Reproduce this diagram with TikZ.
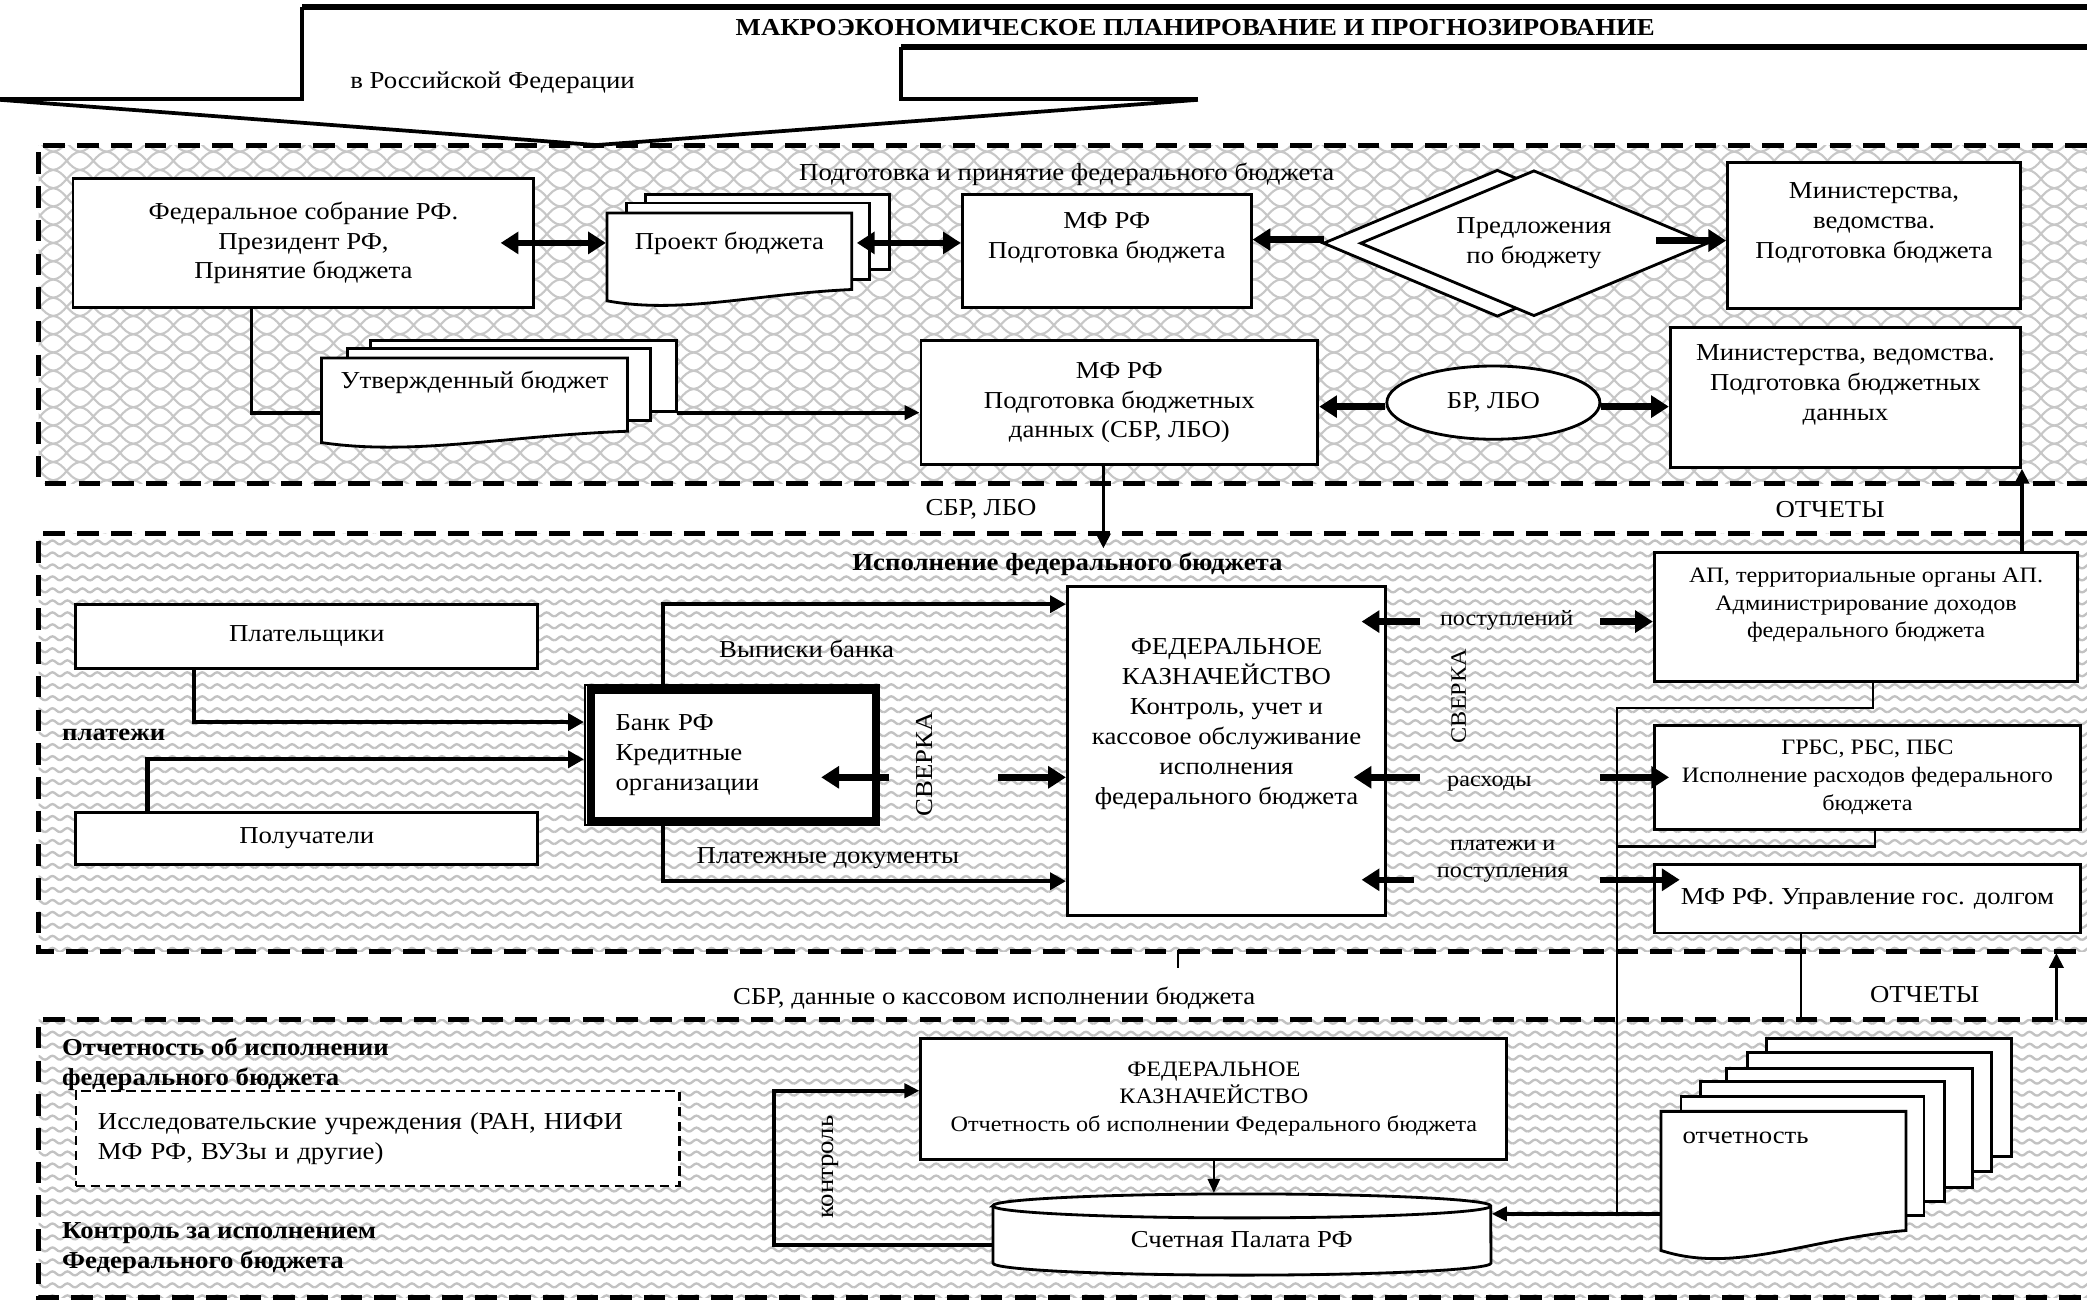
\documentclass[tikz,border=0pt]{standalone}
\usepackage{fontspec}
\setmainfont{Liberation Serif}[FakeStretch=1.1]
\usetikzlibrary{arrows.meta,shapes.geometric,patterns}
\newcommand\mysz{\fontsize{5.2}{6.4}\selectfont}
\newcommand\mysm{\fontsize{4.7}{5.9}\selectfont}
\pgfdeclarepatternformonly{mymesh}{\pgfqpoint{-0.5pt}{-0.5pt}}{\pgfqpoint{6.2pt}{4.4pt}}{\pgfqpoint{5.7pt}{3.9pt}}{%
  \pgfsetlinewidth{0.45pt}%
  \pgfpathmoveto{\pgfqpoint{0pt}{0pt}}%
  \pgfpathcurveto{\pgfqpoint{2.4pt}{0.2pt}}{\pgfqpoint{3.3pt}{3.7pt}}{\pgfqpoint{5.7pt}{3.9pt}}%
  \pgfpathmoveto{\pgfqpoint{0pt}{3.9pt}}%
  \pgfpathcurveto{\pgfqpoint{2.4pt}{3.7pt}}{\pgfqpoint{3.3pt}{0.2pt}}{\pgfqpoint{5.7pt}{0pt}}%
  \pgfusepath{stroke}}
\pgfdeclarepatternformonly{myzig}{\pgfqpoint{-0.3pt}{-0.3pt}}{\pgfqpoint{3.5pt}{2.86pt}}{\pgfqpoint{3.2pt}{2.56pt}}{%
  \pgfsetlinewidth{0.5pt}%
  \pgfpathmoveto{\pgfqpoint{0pt}{0.5pt}}%
  \pgfpathcurveto{\pgfqpoint{0.6pt}{0.5pt}}{\pgfqpoint{1pt}{1.35pt}}{\pgfqpoint{1.6pt}{1.35pt}}%
  \pgfpathcurveto{\pgfqpoint{2.2pt}{1.35pt}}{\pgfqpoint{2.6pt}{0.5pt}}{\pgfqpoint{3.2pt}{0.5pt}}%
  \pgfusepath{stroke}}
\newcommand\docsheet[5]{%
  \draw[sheet] (#1,#4) -- (#1,#2) -- (#3,#2) -- (#3,#4-#5)
    .. controls ({#1+0.6*(#3-#1)},{#4-0.6*#5}) and ({#1+0.3*(#3-#1)},{#4+1.2*#5}) .. (#1,#4) -- cycle;}
\begin{document}
\begin{tikzpicture}[x=0.01cm,y=-0.01cm, font=\mysz,
  box/.style={draw, fill=white, line width=0.6pt, inner sep=1pt, align=center},
  lbl/.style={inner sep=0pt, align=center},
  region/.style={line width=1.1pt, dash pattern=on 4.6pt off 2.6pt},
  bigarrow/.style={line width=1.4pt, -{Triangle[length=3.8pt,width=4.6pt]}},
  bigdbl/.style={line width=1.4pt, {Triangle[length=3.8pt,width=4.6pt]}-{Triangle[length=3.8pt,width=4.6pt]}},
  conn/.style={line width=0.9pt, -{Triangle[length=3.4pt,width=3.6pt]}},
  medarrow/.style={line width=0.8pt, -{Triangle[length=3.2pt,width=3pt]}},
  thinarrow/.style={line width=0.5pt, -{Triangle[length=3pt,width=2.6pt]}},
  medline/.style={line width=0.8pt},
  thinline/.style={line width=0.45pt},
  sheet/.style={draw, fill=white, line width=0.6pt},
  banner/.style={line width=0.8pt},
]
\useasboundingbox (0,0) rectangle (1568,978);

% ---------- backgrounds of the three regions
\path[pattern=mymesh, pattern color=black!22] (29,109) rectangle (1568,363);
\path[pattern=myzig, pattern color=black!24] (29,401) rectangle (1568,715);
\path[pattern=myzig, pattern color=black!24] (29,766) rectangle (1568,975);
\draw[region] (1568,109) -- (29,109) -- (29,363) -- (1568,363);
\draw[region] (1568,401) -- (29,401) -- (29,715) -- (1568,715);
\draw[region] (1568,766) -- (29,766) -- (29,975) -- (1568,975);

% ---------- banner
\draw[line width=1.3pt] (227,5.5) -- (1568,5.5);
\draw[banner] (0,74.5) -- (227,74.5) -- (227,5.5);
\draw[line width=1.3pt] (677,35) -- (1568,35);
\draw[banner] (677,35) -- (677,74.5) -- (900,74.5);
\draw[banner] (0,75) -- (448,109) -- (900,75);
\node[lbl, font=\mysz\bfseries] (ttl) at (898,21) {МАКРОЭКОНОМИЧЕСКОЕ ПЛАНИРОВАНИЕ И ПРОГНОЗИРОВАНИЕ};
\node[lbl] (ttl2) at (370,62.5) {в Российской Федерации};

% ---------- region 1
\node[lbl] (r1t) at (801.5,131) {Подготовка и принятие федерального бюджета};
\node[box, minimum width=3.46cm, minimum height=0.97cm] (fed) at (228,182.5) {Федеральное собрание РФ.\\Президент РФ,\\Принятие бюджета};

\draw[sheet] (485,146) rectangle (668,202.5);
\draw[sheet] (471,152.5) rectangle (653,210);
\docsheet{456}{160}{640}{226}{8.5}
\node[lbl, minimum width=1.84cm] (pt) at (548,182.5) {Проект бюджета};

\node[box, minimum width=2.17cm, minimum height=0.85cm] (mf1) at (831.5,188.5) {МФ РФ\\Подготовка бюджета\\\mbox{}};

\draw[sheet] (994.5,182.75) -- (1125,128) -- (1255.5,182.75) -- (1125,237.5) -- cycle;
\node[draw, fill=white, diamond, shape aspect=2.4, minimum width=2.61cm, minimum height=1.095cm, inner sep=0pt, line width=0.6pt, align=center] (prop) at (1152.5,182.75) {Предложения\\по бюджету};

\node[box, minimum width=2.20cm, minimum height=1.10cm] (min1) at (1408,177) {Министерства,\\ведомства.\\Подготовка бюджета\\\mbox{}};

\draw[sheet] (278.6,256) rectangle (508,309);
\draw[sheet] (261,262) rectangle (489,316);
\docsheet{241.5}{269}{471.5}{332.5}{8.5}
\node[lbl, minimum width=2.3cm] (ut) at (356.5,287.5) {Утвержденный бюджет};

\node[box, minimum width=2.98cm, minimum height=0.93cm] (mf2) at (841,302.5) {МФ РФ\\Подготовка бюджетных\\данных (СБР, ЛБО)};
\node[draw, fill=white, ellipse, line width=0.6pt, minimum width=1.6cm, minimum height=0.55cm, inner sep=0pt] (br) at (1122,302.5) {БР, ЛБО};
\node[box, minimum width=2.63cm, minimum height=1.05cm] (min2) at (1386.5,298.5) {Министерства, ведомства.\\Подготовка бюджетных\\данных\\\mbox{}};

% region 1 connectors
\coordinate (fedar) at ([xshift=-0.26cm]fed.east);
\draw[bigdbl] (fedar) -- (pt.west);
\coordinate (ptr) at ([xshift=0.03cm]pt.east);
\draw[bigdbl] (ptr) -- (ptr -| mf1.west);
\coordinate (dback) at (994.5,180);
\draw[bigarrow] (dback) -- (dback -| mf1.east);
\coordinate (dfr) at ([xshift=-0.4cm,yshift=0.02cm]prop.east);
\draw[bigarrow] (dfr) -- (dfr -| min1.west);
\draw[medline] ([xshift=-0.39cm]fed.south) |- ([yshift=-0.225cm]ut.west);
\coordinate (utout) at ([xshift=0.365cm,yshift=-0.225cm]ut.east);
\draw[medarrow] (utout) -- (utout -| mf2.west);
\coordinate (brl) at ([yshift=-0.03cm]br.west);
\draw[bigarrow] (brl) -- (brl -| mf2.east);
\coordinate (brr) at ([yshift=-0.03cm]br.east);
\draw[bigarrow] (brr) -- (brr -| min2.west);

% ---------- between region 1 and 2
\node[lbl] (sbr) at (737,383) {СБР, ЛБО};
\node[lbl] (ot1) at (1375,383) {ОТЧЕТЫ};
\coordinate (mfd) at ([xshift=-0.12cm]mf2.south);
\draw[medarrow] (mfd) -- ++(0,62);

% ---------- region 2
\node[lbl, font=\mysz\bfseries] (r2t) at (802,424) {Исполнение федерального бюджета};
\node[box, minimum width=3.47cm, minimum height=0.485cm] (pay) at (230.5,478.25) {Плательщики};
\node[box, minimum width=3.47cm, minimum height=0.39cm] (rec) at (230.5,630) {Получатели};
\node[lbl, anchor=west, font=\mysz\bfseries] (plt) at (46,552.5) {платежи};

\node[draw, fill=white, line width=0.4pt, minimum height=1.05cm, text width=1.75cm, inner xsep=0.23cm, align=left] (bank) at (550,567.5) {Банк РФ\\Кредитные\\организации};
\draw[line width=1.7pt] ([shift={(0.055cm,-0.04cm)}]bank.north west) rectangle ([shift={(-0.035cm,0.04cm)}]bank.south east);

\node[box, minimum width=2.39cm, minimum height=2.47cm] (kazn) at (921.5,564.5) {ФЕДЕРАЛЬНОЕ\\КАЗНАЧЕЙСТВО\\Контроль, учет и\\кассовое обслуживание\\исполнения\\федерального бюджета\\\mbox{}\\\mbox{}};

\node[box, font=\mysm, minimum width=3.18cm, minimum height=0.97cm] (ap) at (1402,463.5) {АП, территориальные органы АП.\\Администрирование доходов\\федерального бюджета\\\mbox{}};
\node[box, font=\mysm, minimum width=3.20cm, minimum height=0.78cm] (grbs) at (1403,584) {ГРБС, РБС, ПБС\\Исполнение расходов федерального\\бюджета};
\node[box, minimum width=3.20cm, minimum height=0.515cm] (mfu) at (1403,675.25) {МФ РФ. Управление гос. долгом};

\node[lbl] (vyp) at (606,487.5) {Выписки банка};
\node[lbl] (pld) at (622,645) {Платежные документы};
\node[lbl, rotate=90] (sv1t) at (695,574) {СВЕРКА};
\node[lbl, font=\mysm, rotate=90] (sv2t) at (1096,523) {СВЕРКА};
\node[lbl, font=\mysm] (pos) at (1132,466) {поступлений};
\node[lbl, font=\mysm] (ras) at (1119,589) {расходы};
\node[lbl, font=\mysm] (ppo) at (1129,647) {платежи и\\поступления};

\draw[conn] ([xshift=0.9cm]pay.south west) |- ([yshift=0.25cm]bank.west);
\draw[conn] ([xshift=0.55cm]rec.north west) |- ([yshift=-0.03cm]bank.west);
\draw[conn] ([xshift=0.595cm]bank.north west) |- ([yshift=1.105cm]kazn.west);
\draw[conn] ([xshift=0.595cm]bank.south west) |- ([yshift=-0.975cm]kazn.west);

\coordinate (sa) at (668,584);
\draw[bigarrow] (sa) -- ++(-51,0);
\coordinate (sb) at (750,584);
\draw[bigarrow] (sb) -- (sb -| kazn.west);

\coordinate (kl1) at (1067,467);
\draw[bigarrow] (kl1) -- ++(-44,0);
\coordinate (kr1) at (1202,467);
\draw[bigarrow] (kr1) -- (kr1 -| ap.west);
\coordinate (kl2) at (1067,584);
\draw[bigarrow] (kl2) -- ++(-50,0);
\coordinate (kr2) at (1202,584);
\draw[bigarrow] (kr2) -- ++(52,0);
\coordinate (kl3) at (1062,661);
\draw[bigarrow] (kl3) -- ++(-39,0);
\coordinate (kr3) at (1202,661);
\draw[bigarrow] (kr3) -- ++(60,0);

\coordinate (apu) at ([xshift=-0.43cm]ap.north east);
\draw[medarrow] (apu) -- (apu |- min2.south);

% ---------- between region 2 and 3
\node[lbl] (sbr2) at (747,750) {СБР, данные о кассовом исполнении бюджета};
\node[lbl] (ot2) at (1446,747.5) {ОТЧЕТЫ};
\draw[thinline] (885,714) -- (885,727.5);
\coordinate (o2) at (1545,766);
\draw[medarrow] (o2) -- ++(0,-50);

% ---------- region 3
\node[draw, fill=white, dash pattern=on 2pt off 1.2pt, line width=0.5pt, minimum height=0.715cm, text width=4.2cm, inner xsep=0.1675cm, align=left] (res) at (283.75,855.25) {Исследовательские учреждения (РАН, НИФИ\\МФ РФ, ВУЗы и другие)};
\node[lbl, anchor=west, align=left, font=\mysz\bfseries] (otl) at (46,800) {Отчетность об исполнении\\федерального бюджета};
\node[lbl, anchor=west, align=left, font=\mysz\bfseries] (ktl) at (46,938) {Контроль за исполнением\\Федерального бюджета};

\node[box, font=\mysm, minimum width=4.40cm, minimum height=0.91cm] (fkr) at (912,825.5) {ФЕДЕРАЛЬНОЕ\\КАЗНАЧЕЙСТВО\\Отчетность об исполнении Федерального бюджета};

\draw[sheet] (746,906) -- (746,949) arc[start angle=180,end angle=360,x radius=1.87cm,y radius=0.09cm] -- (1120,906) arc[start angle=0,end angle=180,x radius=1.87cm,y radius=0.09cm] -- cycle;
\draw[line width=0.6pt] (746,906) arc[start angle=180,end angle=360,x radius=1.87cm,y radius=0.09cm];
\node[lbl, minimum width=3.74cm, minimum height=0.68cm] (spk) at (933,931) {Счетная Палата РФ};

\draw[sheet] (1327,780) rectangle (1511,869);
\draw[sheet] (1313,791) rectangle (1496,880);
\draw[sheet] (1297,802.5) rectangle (1482,892);
\draw[sheet] (1277.5,812.5) rectangle (1461,902.5);
\draw[sheet] (1263,824) rectangle (1445.5,913);
\docsheet{1248}{835}{1432}{939.5}{15}
\node[lbl, anchor=west] (ott) at (1263.5,855) {отчетность};
\coordinate (otw) at (1248,912);

\draw[thinarrow] (fkr.south) -- (fkr.south |- spk.north);
\coordinate (kc) at (581.6,880);
\draw[medarrow] ([yshift=-0.045cm]spk.west) -| (kc) |- ([yshift=0.06cm]fkr.west);
\node[lbl, rotate=90] (ktr) at (624,877) {контроль};
\draw[medarrow] (otw) -- (otw -| spk.east);

\coordinate (busT) at (1215,532);
\draw[thinline] ([xshift=0.055cm]ap.south) |- (busT) -- (busT |- otw);
\draw[thinline] ([xshift=0.055cm]grbs.south) |- (1215,636);
\draw[thinline] ([xshift=-0.5cm]mfu.south) -- ++(0,64);
\end{tikzpicture}
\end{document}
